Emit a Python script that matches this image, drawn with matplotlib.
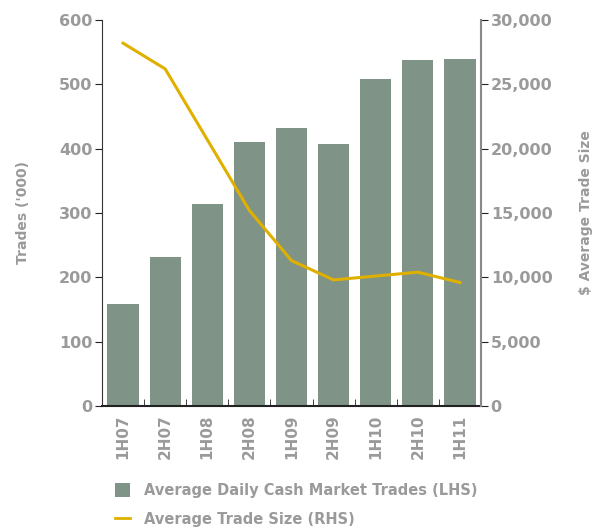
import matplotlib
matplotlib.use("Agg")
import matplotlib.pyplot as plt
from matplotlib.lines import Line2D
from matplotlib.patches import Patch
import numpy as np

categories = ["1H07", "2H07", "1H08", "2H08", "1H09", "2H09", "1H10", "2H10", "1H11"]
trades = [159, 232, 314, 410, 432, 407, 508, 538, 540]
trade_size = [28200, 26200, 20700, 15200, 11300, 9800, 10100, 10400, 9600]
left_ticks = [0, 100, 200, 300, 400, 500, 600]
right_ticks = [0, 5000, 10000, 15000, 20000, 25000, 30000]

bar_color = "#7f9386"
line_color = "#e0b000"
text_color = "#9a9a9a"

plt.rcParams['font.family'] = ['DejaVu Sans']

fig = plt.figure(figsize=(5.93, 5.31), dpi=100)
ax = fig.add_axes([102/593, 1-406/531, 379/593, 386/531])
x = np.arange(len(categories))
ax.bar(x, trades, width=0.74, color=bar_color, zorder=2)
ax.set_xlim(-0.5, len(categories)-0.5)
ax.set_ylim(0, 600)
ax.set_yticks(left_ticks)
ax.set_yticklabels([str(t) for t in left_ticks], color=text_color, fontsize=11.5, fontweight='bold')
ax.set_xticks(x)
ax.set_xticklabels(categories, rotation=90, color=text_color, fontsize=11, fontweight='bold')
ax.tick_params(axis='x', length=0, pad=6)
ax.set_xticks(np.arange(len(categories)+1)-0.5, minor=True)
ax.tick_params(axis='x', which='minor', length=5, direction='in', color='#222222')
ax.tick_params(axis='y', length=5, color='#222222', pad=2)
for s in ['top', 'right']:
    ax.spines[s].set_visible(False)
ax.spines['left'].set_color('#333333')
ax.spines['bottom'].set_color('#222222')
ax.spines['bottom'].set_linewidth(1.5)
ax.set_ylabel("Trades ('000)", color=text_color, fontsize=10, fontweight='bold', labelpad=21)

ax2 = ax.twinx()
ax2.plot(x, trade_size, color=line_color, linewidth=2.2, zorder=3)
ax2.set_ylim(0, 30000)
ax2.set_yticks(right_ticks)
ax2.set_yticklabels([f"{t:,}" for t in right_ticks], color=text_color, fontsize=11.5, fontweight='bold')
ax2.tick_params(axis='y', length=5, color='#222222', pad=2)
for s in ['top', 'left', 'bottom']:
    ax2.spines[s].set_visible(False)
ax2.spines['right'].set_color('#888888')
ax2.spines['right'].set_linewidth(1.5)
ax2.set_ylabel("$ Average Trade Size", color=text_color, fontsize=10, fontweight='bold', labelpad=19)

handles = [Patch(facecolor=bar_color, edgecolor='none'),
           Line2D([0], [0], color=line_color, linewidth=2)]
labels = ["Average Daily Cash Market Trades (LHS)", "Average Trade Size (RHS)"]
leg = fig.legend(handles, labels, loc='upper left', bbox_to_anchor=(115/593, 1-483/531),
                 frameon=False, fontsize=10.5, handlelength=1.0, handleheight=1.0,
                 labelspacing=0.95, handletextpad=1.0, borderaxespad=0, borderpad=0)
for t in leg.get_texts():
    t.set_color(text_color)
    t.set_fontweight('bold')

fig.savefig("out.png", dpi=100)
